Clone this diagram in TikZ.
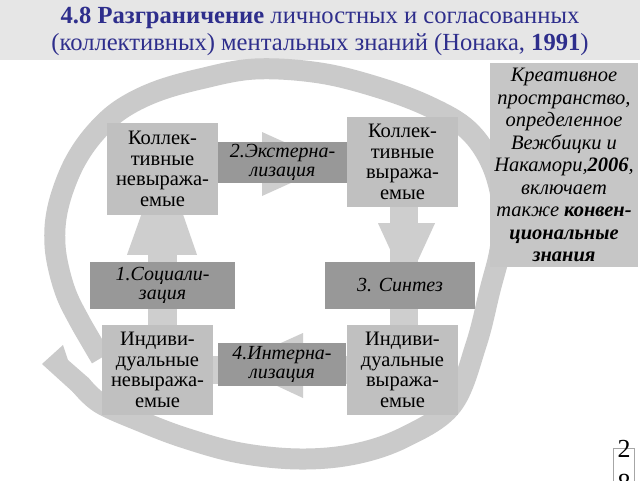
\documentclass[tikz,border=0pt]{standalone}
\usepackage{fontspec}
\setmainfont{Liberation Serif}
\usetikzlibrary{calc}
\pgfdeclarelayer{bg}
\pgfdeclarelayer{back}
\pgfsetlayers{bg,back,main}
\definecolor{titleblue}{RGB}{46,46,140}
\definecolor{bandgray}{RGB}{230,230,230}
\definecolor{ringgray}{RGB}{202,202,202}
\definecolor{boxlight}{RGB}{192,192,192}
\definecolor{boxdark}{RGB}{152,152,152}
\definecolor{arrowgray}{RGB}{206,206,206}
\definecolor{notegray}{RGB}{198,198,198}
\begin{document}
\begin{tikzpicture}[x=1pt,y=-1pt,
  lightbox/.style={fill=boxlight, minimum width=111pt, minimum height=90pt, inner sep=0pt, align=center, font=\fontsize{20.5}{20.7}\selectfont},
  darkbox/.style={fill=boxdark, inner sep=0pt, align=center, font=\fontsize{20}{19.5}\selectfont\itshape},
  blockarrow/.style={fill=arrowgray},
  ring/.style={draw=ringgray, line width=21pt, line join=round}]
\useasboundingbox (0,0) rectangle (640,480);
\begin{pgfonlayer}{bg}
\fill[white] (0,0) rectangle (640,480);
\fill[bandgray] (0,0) rectangle (640,60);
\end{pgfonlayer}
\node[font=\fontsize{24.6}{27}\selectfont, text=titleblue, align=center] (T) at (320,31)
  {\textbf{4.8 Разграничение} личностных и согласованных\\(коллективных) ментальных знаний (Нонака, \textbf{1991})};

\node[lightbox, minimum height=92pt] (A) at (162.5,169) {Коллек-\\тивные\\невыража-\\емые};
\node[lightbox] (B) at (402.5,162) {Коллек-\\тивные\\выража-\\емые};
\node[lightbox] (C) at (157.5,370) {Индиви-\\дуальные\\невыража-\\емые};
\node[lightbox] (D) at (402.5,370) {Индиви-\\дуальные\\выража-\\емые};
\node[darkbox, minimum width=129pt, minimum height=41pt] (E) at (282.5,162.5) {2.Экстерна-\\лизация};
\node[darkbox, minimum width=128pt, minimum height=43pt] (I) at (282,364.5) {4.Интерна-\\лизация};
\node[darkbox, minimum width=145pt, minimum height=47pt] (S) at (162.5,285.5) {1.Социали-\\зация};
\node[darkbox, minimum width=150pt, minimum height=47pt] (Y) at (400,285.5) {3. Синтез};

\node[fill=notegray, minimum width=148pt, minimum height=204pt, inner sep=0pt, align=center,
  font=\fontsize{20.5}{22.5}\selectfont\itshape] (N) at (564,165)
  {Креативное\\пространство,\\определенное\\Вежбицки и\\Накамори,\textbf{2006},\\включает\\также \textbf{конвен-}\\\textbf{циональные}\\\textbf{знания}};

\begin{scope}
\clip (0,0) rectangle (640,480);
\draw[gray!70] (613,448) rectangle (634,495);
\node[anchor=base, font=\fontsize{26}{26}\selectfont, inner sep=0pt] (P2) at (624,457) {2};
\node[anchor=base, font=\fontsize{26}{26}\selectfont, inner sep=0pt] (P8) at (624,491) {8};
\end{scope}

\begin{pgfonlayer}{back}
  % big circular arrow
  \draw[ring] plot[smooth, tension=0.6] coordinates {
    (101,358) (91,341) (79,320) (67,296) (59,270) (55,245) (56,218) (63,190) (76,160)
    (95,133) (120,110) (155,92) (200,79) (255,69) (320,73) (380,88) (430,107) (468,130)
    (492,165) (503,210) (500,250) (490,290) (476,345) (452,405) (405,437)
    (355,454) (300,459) (240,453) (185,438) (140,421) (100,403) (80,384)};
  \fill[ringgray] (74,393) -- (42,364) -- (63,345) -- (68,360) -- (88,377.5) -- cycle;
  % socialisation: C -> A
  \fill[blockarrow] ($(C.north)+(-10,0)$) rectangle ($(A.south)+(14,0)$);
  \fill[blockarrow] ($(S.north)+(-35.5,-7)$) -- ($(S.north)+(34.5,-7)$) -- ($(A.south)+(0,-60)$) -- cycle;
  % externalisation: A -> B
  \fill[blockarrow] ($(A.east)+(0,-14)$) rectangle ($(B.west)+(0,14)$);
  \fill[blockarrow] ($(E.center)+(-20.5,-30.5)$) -- ($(E.center)+(-20.5,33.5)$) -- ($(B.west)+(-14,2)$) -- cycle;
  % synthesis: B -> D
  \fill[blockarrow] ($(B.south)+(-12.5,0)$) rectangle ($(D.north)+(15.5,0)$);
  \fill[blockarrow] ($(B.south)+(-24.5,16)$) -- ($(B.south)+(32.5,16)$) -- ($(B.south)+(4,78)$) -- cycle;
  % internalisation: D -> C
  \fill[blockarrow] ($(D.west)+(0,-14)$) rectangle ($(C.east)+(0,14)$);
  \fill[blockarrow] ($(I.center)+(21,-31.5)$) -- ($(I.center)+(21,33.5)$) -- ($(C.east)+(19,-5)$) -- cycle;
\end{pgfonlayer}
\end{tikzpicture}
\end{document}
